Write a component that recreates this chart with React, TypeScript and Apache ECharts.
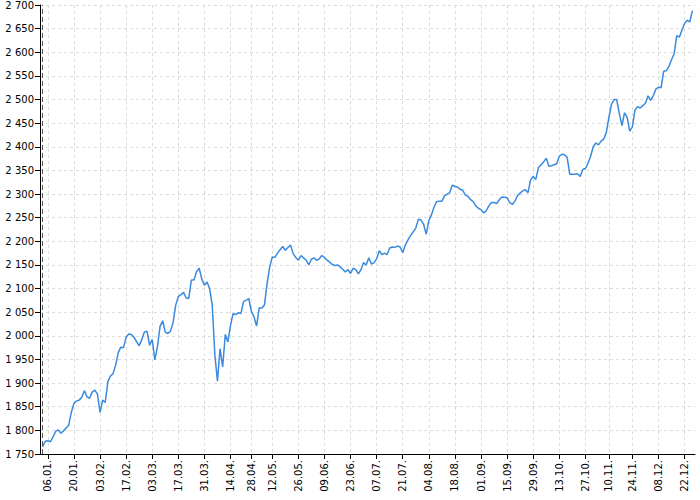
import React, { useEffect, useRef } from "react";
import * as echarts from "echarts";

const YEAR = 2025;
// Exchange holidays (weekdays with no trading) — skipped on the axis
const HOLIDAYS = ["18.04.", "21.04.", "01.05.", "08.05.", "28.10.", "17.11.", "24.12.", "25.12.", "26.12."];

const TICK_LABELS = [
  "06.01.", "20.01.", "03.02.", "17.02.", "03.03.", "17.03.", "31.03.", "14.04.", "28.04.",
  "12.05.", "26.05.", "09.06.", "23.06.", "07.07.", "21.07.", "04.08.", "18.08.", "01.09.",
  "15.09.", "29.09.", "13.10.", "27.10.", "10.11.", "24.11.", "08.12.", "22.12.",
];

const START_MARK = "02.01.";

// Daily closes, trading days 02.01. – 30.12.
const JAN = [1765, 1777, 1778, 1776, 1786, 1798, 1801, 1794, 1799, 1805, 1811, 1838, 1857, 1862, 1864, 1870, 1884, 1871, 1868, 1881, 1885, 1877];
const FEB = [1838, 1864, 1859, 1903, 1915, 1920, 1938, 1965, 1976, 1975, 1997, 2004, 2003, 1997, 1988, 1979, 1992, 2008, 2010, 1980];
const MAR = [1992, 1949, 1977, 2020, 2032, 2008, 2005, 2010, 2028, 2065, 2083, 2087, 2092, 2080, 2079, 2118, 2118, 2136, 2143, 2120, 2107];
const APR = [2114, 2100, 2065, 1960, 1904, 1973, 1934, 2003, 1987, 2022, 2047, 2045, 2049, 2047, 2073, 2075, 2079, 2052, 2040, 2021];
const MAY = [2059, 2059, 2065, 2110, 2145, 2167, 2166, 2175, 2182, 2189, 2181, 2187, 2192, 2174, 2166, 2160, 2170, 2165, 2160, 2150];
const JUN = [2162, 2165, 2160, 2163, 2170, 2166, 2160, 2156, 2151, 2149, 2150, 2146, 2141, 2135, 2140, 2132, 2143, 2140, 2131, 2140, 2155];
const JUL = [2150, 2165, 2152, 2155, 2163, 2180, 2172, 2175, 2172, 2186, 2188, 2187, 2190, 2188, 2176, 2192, 2203, 2212, 2220, 2228, 2247, 2245, 2236];
const AUG = [2215, 2244, 2256, 2272, 2284, 2285, 2285, 2296, 2300, 2303, 2319, 2316, 2315, 2310, 2308, 2298, 2295, 2288, 2284, 2275, 2270];
const SEP = [2267, 2260, 2265, 2275, 2282, 2282, 2280, 2288, 2294, 2293, 2292, 2282, 2278, 2285, 2297, 2302, 2307, 2309, 2303, 2330, 2337, 2331];
const OCT = [2356, 2362, 2368, 2376, 2359, 2360, 2362, 2364, 2380, 2384, 2383, 2378, 2342, 2342, 2342, 2343, 2337, 2352, 2354, 2365, 2380, 2400];
const NOV = [2408, 2404, 2412, 2416, 2430, 2462, 2490, 2500, 2500, 2470, 2445, 2472, 2462, 2433, 2442, 2478, 2485, 2482, 2487];
const DEC = [2492, 2508, 2498, 2508, 2522, 2526, 2525, 2560, 2561, 2570, 2584, 2597, 2635, 2632, 2647, 2661, 2668, 2664, 2688];

function fmtDate(d: Date): string {
  const dd = String(d.getUTCDate()).padStart(2, "0");
  const mm = String(d.getUTCMonth() + 1).padStart(2, "0");
  return `${dd}.${mm}.`;
}

function buildCategories(): string[] {
  const out: string[] = [];
  let t = Date.UTC(YEAR, 0, 1);
  while (new Date(t).getUTCFullYear() === YEAR) {
    const d = new Date(t);
    const wd = d.getUTCDay();
    const s = fmtDate(d);
    if (wd !== 0 && wd !== 6 && !HOLIDAYS.includes(s)) out.push(s);
    t += 86400000;
  }
  return out;
}

function fmtNum(v: number): string {
  return String(v).replace(/\B(?=(\d{3})+(?!\d))/g, " ");
}

export default function App() {
  const ref = useRef<HTMLDivElement>(null);

  useEffect(() => {
    document.body.style.margin = "0";
    if (!ref.current) return;
    const chart = echarts.init(ref.current, null, { renderer: "svg" });
    const categories = buildCategories();
    const values: (number | null)[] = [
      null,
      ...JAN, ...FEB, ...MAR, ...APR, ...MAY, ...JUN,
      ...JUL, ...AUG, ...SEP, ...OCT, ...NOV, ...DEC,
    ];
    while (values.length < categories.length) values.push(null);
    const labelSet = new Set(TICK_LABELS);
    const show = (_i: number, v: string) => labelSet.has(v);
    const font = "DejaVu Sans";
    const gridLine = { color: "#dcdcdc", type: [3, 3] as number[], width: 1 };

    chart.setOption({
      animation: false,
      grid: { left: 40, right: 5, top: 4, bottom: 46 },
      xAxis: {
        type: "category",
        data: categories,
        boundaryGap: false,
        axisLine: { show: true, lineStyle: { color: "#000", width: 1 } },
        axisTick: { show: true, interval: show, length: 5, lineStyle: { color: "#000" } },
        axisLabel: {
          interval: show,
          rotate: 90,
          margin: 6,
          fontSize: 10,
          fontFamily: font,
          color: "#000",
        },
        splitLine: { show: true, interval: show, lineStyle: gridLine },
      },
      yAxis: {
        type: "value",
        min: 1750,
        max: 2700,
        interval: 50,
        axisLine: { show: true, lineStyle: { color: "#000", width: 1 } },
        axisTick: { show: true, length: 5, lineStyle: { color: "#000" } },
        axisLabel: {
          formatter: (v: number) => fmtNum(v),
          fontSize: 10,
          fontFamily: font,
          color: "#000",
          margin: 6,
        },
        splitLine: { show: true, lineStyle: gridLine },
      },
      series: [
        {
          type: "line",
          data: values,
          showSymbol: false,
          symbol: "none",
          connectNulls: false,
          lineStyle: { color: "#3a8ade", width: 1.5 },
          emphasis: { disabled: true },
          markLine: {
            silent: true,
            symbol: ["none", "none"],
            label: { show: false },
            lineStyle: { color: "#555", type: [5, 3], width: 1 },
            data: [{ xAxis: START_MARK }],
          },
        },
      ],
    });
    return () => chart.dispose();
  }, []);

  return <div ref={ref} style={{ width: 700, height: 500 }} />;
}
